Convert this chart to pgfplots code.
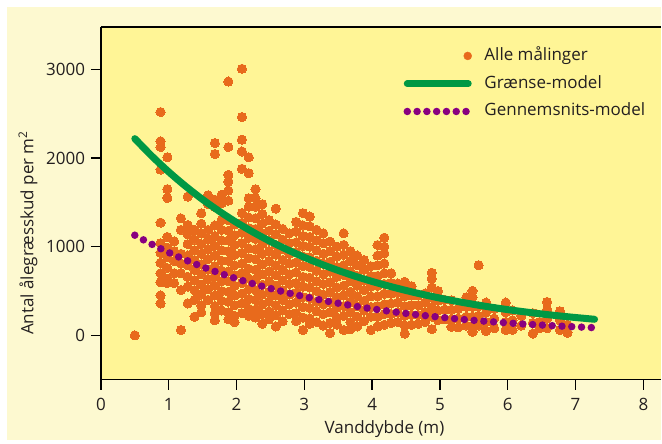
\documentclass[border=0pt]{standalone}
\usepackage{pgfplots}
\pgfplotsset{compat=1.18}
\usepackage{fontspec}
\setmainfont{Open Sans}

\definecolor{cream}{RGB}{253,249,208}
\definecolor{plotyellow}{RGB}{255,245,150}
\definecolor{dotorange}{RGB}{232,106,28}
\definecolor{limgreen}{RGB}{0,152,68}
\definecolor{avgpurple}{RGB}{136,0,128}
\definecolor{txt}{RGB}{35,31,32}

\begin{document}
\fontsize{17}{20}\selectfont
\begin{tikzpicture}[x=1pt,y=1pt]
\fill[white] (0,0) rectangle (662,440);
\fill[cream] (7,0) rectangle (662,433);
\begin{axis}[
    at={(101pt,60pt)}, anchor=south west,
    scale only axis, width=561pt, height=353pt,
    xmin=0, xmax=8.265, ymin=-500, ymax=3480,
    axis lines=left,
    axis line style={-, line width=1.3pt, black},
    axis background/.style={fill=plotyellow},
    xtick={0,1,2,3,4,5,6,7,8}, ytick={0,1000,2000,3000},
    tick align=outside, major tick length=10pt,
    tick style={line width=1.3pt, black},
    /pgf/number format/assume math mode=true,
    /pgf/number format/1000 sep={},
    tick label style={font=\fontsize{17}{20}\selectfont, text=txt},
    xticklabel style={yshift=-3pt},
    xlabel={Vanddybde (m)},
    xlabel style={at={(axis description cs:0.506,-0.1416)}, anchor=center, font=\fontsize{17}{20}\selectfont, text=txt},
    ylabel={Antal ålegræsskud per m\textsuperscript{2}},
    ylabel style={at={(axis description cs:-0.130,0.416)}, anchor=center, font=\fontsize{17}{20}\selectfont, text=txt},
    legend style={at={(0.540,0.9476)}, anchor=north west, draw=none, fill=none,
        inner sep=0pt, outer sep=0pt, row sep=6.8pt,
        nodes={inner sep=2pt, text height=13pt, text depth=4pt},
        font=\fontsize{17}{20}\selectfont, text=txt,
        /tikz/every odd column/.append style={column sep=10.5pt}},
    legend cell align=left,
    clip=false, clip marker paths=true,
]
\addplot[only marks, mark=*, color=dotorange, mark size=4.6pt,
    mark options={fill=dotorange, draw=dotorange, line width=0pt},
    legend image code/.code={\path[draw=none, fill=none] (0pt,0pt) -- (68pt,0pt); \fill[dotorange] (64pt,0pt) circle (4pt);}]
coordinates {
(0.5,0)
(0.88,2520) (0.88,2190) (0.88,2125) (0.88,1870) (0.88,1272) (0.88,1040) (0.88,930) (0.88,820) (0.88,700) (0.88,600) (0.88,450) (0.88,360)
(0.98,2010) (0.98,1650) (0.98,1550) (0.98,1110) (0.98,990) (0.98,880) (0.98,760) (0.98,640) (0.98,590)
(1.08,1060) (1.08,950) (1.08,840) (1.08,700) (1.08,590)
(1.18,1320) (1.18,1190) (1.18,920) (1.18,810) (1.18,700) (1.18,510) (1.18,60)
(1.28,1566) (1.28,1245) (1.28,1140) (1.28,1030) (1.28,900) (1.28,790) (1.28,660) (1.28,550) (1.28,360)
(1.38,1190) (1.38,1080) (1.38,960) (1.38,850) (1.38,740) (1.38,620) (1.38,510) (1.38,400) (1.38,210)
(1.48,1378) (1.48,1260) (1.48,1150) (1.48,1030) (1.48,920) (1.48,800) (1.48,690) (1.48,570) (1.48,460) (1.48,340) (1.48,260)
(1.58,1580) (1.58,1480) (1.58,1190) (1.58,1080) (1.58,970) (1.58,860) (1.58,740) (1.58,630) (1.58,520) (1.58,400)
(1.68,2170) (1.68,2046) (1.68,1530) (1.68,1450) (1.68,1240) (1.68,1120) (1.68,1010) (1.68,900) (1.68,780) (1.68,670) (1.68,560) (1.68,450) (1.68,330) (1.68,250) (1.68,170)
(1.78,1585) (1.78,1490) (1.78,1300) (1.78,1190) (1.78,1070) (1.78,960) (1.78,840) (1.78,730) (1.78,610) (1.78,500) (1.78,390) (1.78,280)
(1.88,2864) (1.88,2125) (1.88,1811) (1.88,1736) (1.88,1634) (1.88,1520) (1.88,1300) (1.88,1180) (1.88,1070) (1.88,950) (1.88,840) (1.88,720) (1.88,610) (1.88,490) (1.88,380) (1.88,260) (1.88,180)
(1.97,1250) (1.97,1130) (1.97,1020) (1.97,910) (1.97,790) (1.97,680) (1.97,560) (1.97,450) (1.97,340) (1.97,220) (1.97,150)
(2.08,3008) (2.08,2464) (2.08,2208) (2.08,2075) (2.08,1879) (2.08,1380) (2.08,1270) (2.08,1160) (2.08,1040) (2.08,930) (2.08,810) (2.08,700) (2.08,590) (2.08,470) (2.08,360) (2.08,250)
(2.18,2010) (2.18,1830) (2.18,1547) (2.18,1452) (2.18,1330) (2.18,1210) (2.18,1100) (2.18,980) (2.18,870) (2.18,750) (2.18,640) (2.18,520) (2.18,410) (2.18,300) (2.18,220)
(2.28,1649) (2.28,1547) (2.28,1452) (2.28,1320) (2.28,1200) (2.28,1090) (2.28,970) (2.28,860) (2.28,740) (2.28,630) (2.28,510) (2.28,400) (2.28,290) (2.28,200)
(2.38,1480) (2.38,1370) (2.38,1260) (2.38,1150) (2.38,1030) (2.38,920) (2.38,800) (2.38,690) (2.38,570) (2.38,460) (2.38,350) (2.38,240) (2.38,130)
(2.48,1300) (2.48,1180) (2.48,1070) (2.48,950) (2.48,840) (2.48,720) (2.48,610) (2.48,490) (2.48,380) (2.48,270) (2.48,180)
(2.58,1430) (2.58,1250) (2.58,1140) (2.58,1020) (2.58,910) (2.58,790) (2.58,680) (2.58,560) (2.58,450) (2.58,340) (2.58,230) (2.58,100)
(2.68,1200) (2.68,1080) (2.68,970) (2.68,850) (2.68,740) (2.68,620) (2.68,510) (2.68,400) (2.68,280) (2.68,160)
(2.78,1150) (2.78,1040) (2.78,920) (2.78,810) (2.78,690) (2.78,580) (2.78,460) (2.78,350) (2.78,240)
(2.88,1280) (2.88,1170) (2.88,1050) (2.88,940) (2.88,820) (2.88,710) (2.88,590) (2.88,480) (2.88,370) (2.88,250) (2.88,160)
(2.98,1378) (2.98,1240) (2.98,1120) (2.98,1010) (2.98,890) (2.98,780) (2.98,660) (2.98,550) (2.98,430) (2.98,320) (2.98,200) (2.98,60)
(3.08,1340) (3.08,1230) (3.08,1110) (3.08,1000) (3.08,880) (3.08,770) (3.08,650) (3.08,540) (3.08,420) (3.08,310) (3.08,190) (3.08,130)
(3.18,1190) (3.18,1070) (3.18,960) (3.18,840) (3.18,730) (3.18,610) (3.18,500) (3.18,380) (3.18,270) (3.18,150)
(3.28,1150) (3.28,1040) (3.28,920) (3.28,810) (3.28,690) (3.28,580) (3.28,460) (3.28,350) (3.28,240) (3.28,110)
(3.38,1057) (3.38,950) (3.38,830) (3.38,720) (3.38,600) (3.38,490) (3.38,370) (3.38,260) (3.38,140) (3.38,25)
(3.48,1000) (3.48,890) (3.48,770) (3.48,660) (3.48,540) (3.48,430) (3.48,310) (3.48,200) (3.48,120)
(3.58,1151) (3.58,1020) (3.58,910) (3.58,790) (3.58,680) (3.58,560) (3.58,450) (3.58,330) (3.58,220) (3.58,60)
(3.68,950) (3.68,840) (3.68,720) (3.68,610) (3.68,490) (3.68,380) (3.68,260) (3.68,150) (3.68,70)
(3.78,900) (3.78,790) (3.78,670) (3.78,560) (3.78,440) (3.78,330) (3.78,210) (3.78,100)
(3.88,850) (3.88,740) (3.88,620) (3.88,510) (3.88,390) (3.88,280) (3.88,160)
(3.98,780) (3.98,670) (3.98,550) (3.98,440) (3.98,320) (3.98,210) (3.98,60)
(4.08,1019) (4.08,900) (4.08,790) (4.08,670) (4.08,560) (4.08,440) (4.08,330) (4.08,210) (4.08,100)
(4.18,1102) (4.18,1000) (4.18,925) (4.18,810) (4.18,700) (4.18,580) (4.18,470) (4.18,350) (4.18,240) (4.18,120)
(4.28,700) (4.28,590) (4.28,470) (4.28,360) (4.28,240) (4.28,140)
(4.38,585) (4.38,480) (4.38,370) (4.38,260) (4.38,150)
(4.48,604) (4.48,547) (4.48,440) (4.48,330) (4.48,220) (4.48,110) (4.48,20)
(4.58,555) (4.58,450) (4.58,340) (4.58,230) (4.58,120)
(4.68,450) (4.68,340) (4.68,230) (4.68,130)
(4.78,472) (4.78,370) (4.78,260) (4.78,150)
(4.88,706) (4.88,640) (4.88,540) (4.88,430) (4.88,320) (4.88,210) (4.88,70)
(4.97,500) (4.97,390) (4.97,280) (4.97,170)
(5.07,400) (5.07,290) (5.07,180)
(5.17,396) (5.17,290) (5.17,180) (5.17,94)
(5.27,300) (5.27,190) (5.27,90)
(5.39,430) (5.39,320) (5.39,210) (5.39,110)
(5.48,502) (5.48,430) (5.48,320) (5.48,210) (5.48,100) (5.48,40)
(5.57,792) (5.57,330) (5.57,220) (5.57,110)
(5.68,370) (5.68,260) (5.68,150) (5.68,50)
(5.80,300) (5.80,190) (5.80,80)
(5.97,370) (5.97,260) (5.97,150) (5.97,60)
(6.07,280) (6.07,170) (6.07,60)
(6.20,220) (6.20,110)
(6.37,250) (6.37,140) (6.37,20)
(6.47,150) (6.47,80)
(6.58,377) (6.58,290) (6.58,190) (6.58,80)
(6.77,272) (6.77,170) (6.77,60)
(6.88,120) (6.88,30)
};
\addlegendentry{Alle målinger}

\addplot[limgreen, line width=7pt, line cap=round, smooth,
    legend image code/.code={\path[draw=none] (0pt,0pt) -- (68pt,0pt); \draw[limgreen, line width=7pt, line cap=round] (3.5pt,0pt) -- (64.5pt,0pt);}]
coordinates {
(0.5,2220) (0.75,2024) (1.0,1845) (1.25,1682) (1.5,1533) (1.75,1398)
(2.0,1274) (2.25,1162) (2.5,1059) (2.75,966) (3.0,880) (3.25,803)
(3.5,732) (3.75,667) (4.0,608) (4.25,555) (4.5,506) (4.75,461)
(5.0,420) (5.25,383) (5.5,349) (5.75,318) (6.0,290) (6.25,265)
(6.5,241) (6.75,220) (7.0,201) (7.28,181)
};
\addlegendentry{Grænse-model}

\addplot[avgpurple, line width=7.5pt, line cap=round, dash pattern=on 0pt off 9.8pt, smooth,
    legend image code/.code={\path[draw=none] (0pt,0pt) -- (68pt,0pt); \draw[avgpurple, line width=7.5pt, line cap=round, dash pattern=on 0pt off 9.8pt] (3.5pt,0pt) -- (64.5pt,0pt);}]
coordinates {
(0.5,1130) (0.75,1028) (1.0,935) (1.25,850) (1.5,773) (1.75,703)
(2.0,639) (2.25,581) (2.5,529) (2.75,481) (3.0,437) (3.25,398)
(3.5,362) (3.75,329) (4.0,299) (4.25,272) (4.5,247) (4.75,225)
(5.0,205) (5.25,186) (5.5,169) (5.75,154) (6.0,140) (6.25,127)
(6.5,116) (6.75,105) (7.0,96) (7.25,87)
};
\addlegendentry{Gennemsnits-model}

\draw[black, line width=1.3pt] (rel axis cs:0,1) -- (rel axis cs:1,1);
\end{axis}
\end{tikzpicture}
\end{document}
